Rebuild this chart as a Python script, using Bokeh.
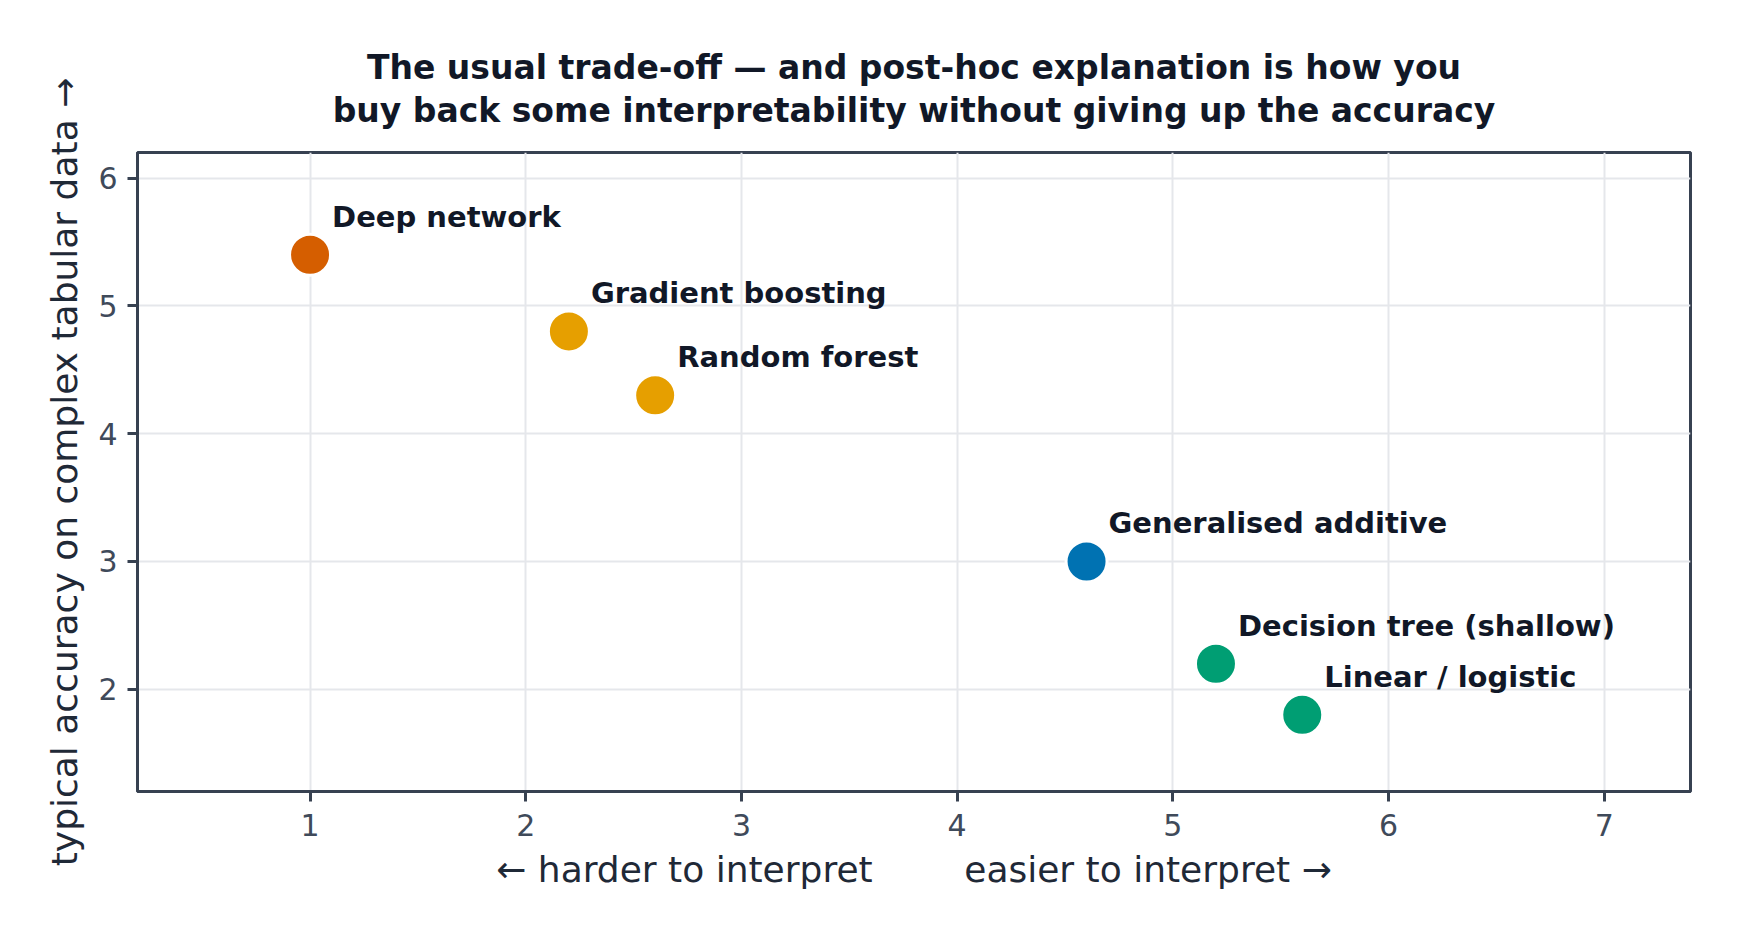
from bokeh.plotting import figure
from bokeh.models import ColumnDataSource, Range1d, FixedTicker, Title
from bokeh.core.properties import value
from bokeh.embed import file_html
from bokeh.resources import INLINE

# ---- data ----
models = ["Deep network", "Gradient boosting", "Random forest",
          "Generalised additive", "Decision tree (shallow)", "Linear / logistic"]
interpretability = [1.0, 2.2, 2.6, 4.6, 5.2, 5.6]
accuracy = [5.4, 4.8, 4.3, 3.0, 2.2, 1.8]
family = ["deep", "ensemble", "ensemble", "gam", "simple", "simple"]
x_ticks = [1, 2, 3, 4, 5, 6, 7]
y_ticks = [2, 3, 4, 5, 6]
title_lines = ["The usual trade-off \u2014 and post-hoc explanation is how you",
               "buy back some interpretability without giving up the accuracy"]

palette = {"deep": "#D55E00", "ensemble": "#E69F00", "gam": "#0072B2", "simple": "#009E73"}

src = ColumnDataSource(dict(
    x=interpretability, y=accuracy, name=models,
    color=[palette[f] for f in family],
))

FONT = "DejaVu Sans"
DARK = "#111827"
AXIS = "#374151"

p = figure(width=1732, height=924, output_backend="svg", toolbar_location=None,
           x_range=Range1d(0.2, 7.4), y_range=Range1d(1.2, 6.2),
           min_border_left=137, min_border_right=42, min_border_top=152,
           min_border_bottom=133)
p.title.visible = False

# title: second line nearest the frame, first line above it
for line, standoff in zip(reversed(title_lines), (46, -42)):
    t = Title(text=line, align="center", text_font=FONT, text_font_size="33px",
              text_font_style="bold", text_color=DARK, standoff=standoff)
    p.add_layout(t, "above")

p.outline_line_color = AXIS
p.outline_line_width = 3
p.background_fill_color = "white"
p.border_fill_color = "white"

p.xaxis.ticker = FixedTicker(ticks=x_ticks)
p.yaxis.ticker = FixedTicker(ticks=y_ticks)
p.xgrid.ticker = FixedTicker(ticks=x_ticks)
p.ygrid.ticker = FixedTicker(ticks=y_ticks)
p.grid.grid_line_color = "#e5e7eb"
p.grid.grid_line_width = 2

nb = "\u00a0"
p.xaxis.axis_label = "\u2190 harder to interpret" + nb * 8 + "easier to interpret \u2192"
p.yaxis.axis_label = "typical accuracy on complex tabular data \u2192"

for ax in (p.xaxis, p.yaxis):
    ax.axis_line_color = AXIS
    ax.axis_line_width = 3
    ax.major_tick_line_color = AXIS
    ax.major_tick_line_width = 3
    ax.major_tick_out = 10
    ax.major_tick_in = 0
    ax.minor_tick_line_color = None
    ax.major_label_text_font = FONT
    ax.major_label_text_font_size = "30px"
    ax.major_label_text_color = "#3f4a5a"
    ax.axis_label_text_font = FONT
    ax.axis_label_text_font_size = "36px"
    ax.axis_label_text_font_style = "normal"
    ax.axis_label_text_color = "#1f2937"

p.xaxis.major_label_standoff = 12
p.xaxis.axis_label_standoff = 10
p.yaxis.major_label_standoff = 10
p.yaxis.axis_label_standoff = 10

p.scatter("x", "y", source=src, size=41, fill_color="color",
          line_color="white", line_width=3)

p.text("x", "y", text="name", source=src, x_offset=22, y_offset=-38,
       text_font=value(FONT), text_font_size="29px", text_font_style="bold",
       text_color=DARK, text_baseline="middle", text_align="left")

open("out.html", "w").write(file_html(p, INLINE))
